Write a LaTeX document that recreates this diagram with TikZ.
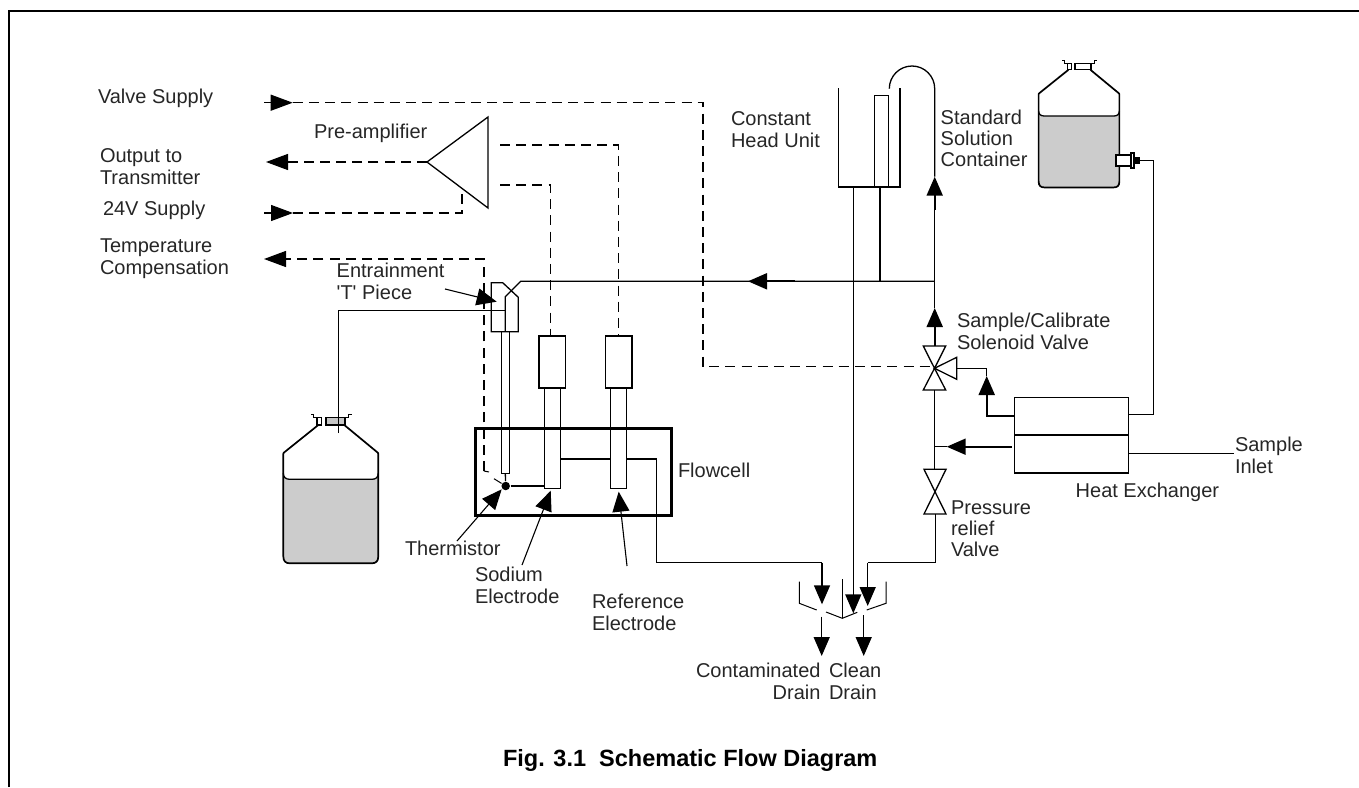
\documentclass[tikz,border=0pt]{standalone}
\usepackage{fontspec}
\setmainfont{Liberation Sans}
\usetikzlibrary{calc,positioning,arrows.meta}

\newcommand{\bottle}[4]{%
  \begin{scope}[shift={(#1,#2)},scale=#3]
    \fill[gray!40] (-47.5,56) .. controls (-47.5,60) and (-45,62) .. (-41,62) -- (41,62) .. controls (45,62) and (47.5,60) .. (47.5,56) -- (47.5,139) .. controls (47.5,144) and (45,146) .. (41,146) -- (-41,146) .. controls (-45,146) and (-47.5,144) .. (-47.5,139) -- cycle;
    \draw (-47.5,56) .. controls (-47.5,60) and (-45,62) .. (-41,62) -- (41,62) .. controls (45,62) and (47.5,60) .. (47.5,56);
    \draw[line width=1.7pt] (-12.5,7.7) -- (-47,35.4) -- (-47.5,36.5) -- (-47.5,139) .. controls (-47.5,144) and (-45,146) .. (-41,146) -- (41,146) .. controls (45,146) and (47.5,144) .. (47.5,139) -- (47.5,36.5) -- (47,35.4) -- (13.5,7.7);
    \draw[fill=white] (-13.8,0) rectangle (-9.1,7.7);
    \draw[fill=#4] (-4.8,0) rectangle (14.2,7.7);
    \draw (-13.8,0) -- (-17,0) -- (-17,-3) -- (-20,-3);
    \draw (14.2,0) -- (18,0) -- (18,-3) -- (21,-3);
  \end{scope}}

\begin{document}
\begin{tikzpicture}[x=1pt, y=-1pt, line width=1.3pt, every node/.style={font=\fontsize{20}{21.3}\selectfont\color{black!85}},
    lbl/.style={inner sep=0pt, outer sep=0pt, anchor=base west, align=left},
    box/.style={draw, inner sep=0pt, outer sep=0pt, anchor=north west},
    sig/.style={dash pattern=on 10pt off 6.2pt},
    flow/.style={-{Triangle[length=19pt,width=16pt]}, line width=2pt},
    wire/.style={-{Triangle[length=22pt,width=16pt]}},
    point/.style={-{Triangle[length=20pt,width=17pt]}, line width=1.1pt}]
    \useasboundingbox (0,0) rectangle (1359,787);

    \coordinate (framea) at (9,787);
    \coordinate (frameb) at (9,11);
    \coordinate (framec) at (1359,11);
    \draw[line width=1.5pt] (framea) -- (frameb) -- (framec);

    \node[lbl] (valvesupply) at (98,103) {Valve Supply};
    \node[lbl] (output) at (100,184) {Output to\\Transmitter};
    \node[lbl] (supply) at (103,215.7) {24V Supply};
    \node[lbl] (tempcomp) at (100,274) {Temperature\\Compensation};
    \node[lbl] (preamp) at (314,138) {Pre-amplifier};
    \node[lbl] (entrain) at (336.7,299) {Entrainment\\\textquotesingle T\textquotesingle\ Piece};
    \node[lbl] (headunit) at (731,147) {Constant\\Head Unit};
    \node[lbl] (standard) at (940.7,166.7) {Standard\\Solution\\Container};
    \node[lbl] (solenoid) at (957,349) {Sample/Calibrate\\Solenoid Valve};
    \node[lbl] (heatex) at (1075.7,497) {Heat Exchanger};
    \node[lbl] (inlet) at (1235,473) {Sample\\Inlet};
    \node[lbl] (relief) at (951,556.7) {Pressure\\relief\\Valve};
    \node[lbl] (flowcelltxt) at (678,477) {Flowcell};
    \node[lbl] (thermtxt) at (405,555) {Thermistor};
    \node[lbl] (sodiumtxt) at (475,603) {Sodium\\Electrode};
    \node[lbl] (reftxt) at (592,630) {Reference\\Electrode};
    \node[lbl, align=right] (contam) at (696,699) {Contaminated\\Drain};
    \node[lbl] (clean) at (829,699) {Clean\\Drain};
    \node[lbl, font=\fontsize{23.5}{24}\selectfont\bfseries] (title) at (503,766) {Fig. 3.1\ \ Schematic Flow Diagram};

    % amplifier and its signal wires
    \coordinate (ampa) at (427,162);
    \coordinate (ampb) at (488,117);
    \coordinate (ampc) at (488,208);
    \draw (ampa) -- (ampb) -- (ampc) -- cycle;
    \coordinate (vsa) at (264,102.7);
    \coordinate (vsb) at (292.7,102.7);
    \coordinate (vsc) at (703,102.7);
    \coordinate (vsd) at (703,366.7);
    \coordinate (vse) at (934.5,366.7);
    \draw[wire] (vsa) -- (vsb);
    \draw[sig] (vsb) -- (vsc) -- (vsd) -- (vse);
    \coordinate (outa) at (297,162);
    \coordinate (outb) at (266,162);
    \draw[sig] (ampa) -- (outa);
    \draw[wire] (outa) -- (outb);
    \coordinate (ssa) at (264,213);
    \coordinate (ssb) at (293,213);
    \coordinate (ssc) at (462,213);
    \coordinate (ssd) at (462,188);
    \draw[wire] (ssa) -- (ssb);
    \draw[sig] (ssb) -- (ssc) -- (ssd);
    \coordinate (tca) at (484,471);
    \coordinate (tcb) at (484,259);
    \coordinate (tcc) at (290,259);
    \coordinate (tcd) at (264,259);
    \coordinate (tce) at (489,472);
    \draw[sig] (tca) -- (tcb) -- (tcc);
    \draw[wire] (tcc) -- (tcd);
    \draw[line width=1pt] (tca) -- (tce);

    \node[box, minimum width=26.7pt, minimum height=52pt] (sodiumhead) at (539,336) {};
    \node[box, minimum width=16pt, minimum height=100.3pt] (sodiumbody) at (544.3,388) {};
    \node[box, minimum width=26.3pt, minimum height=52pt] (refhead) at (605.7,336) {};
    \node[box, minimum width=16pt, minimum height=100.3pt] (refbody) at (610.7,388) {};
    \coordinate (siga) at (500,185);
    \coordinate (sigb) at (550.7,185);
    \coordinate (sigc) at (500,145);
    \coordinate (sigd) at (618.7,145);
    \draw[sig] (siga) -- (sigb) -- (sigb |- sodiumhead.north);
    \draw[sig] (sigc) -- (sigd) -- (sigd |- refhead.north);

    % entrainment piece and probe
    \coordinate (tpa) at (491.3,282.7);
    \coordinate (tpb) at (502.7,282.7);
    \coordinate (tpc) at (518.3,297.3);
    \coordinate (tpd) at (518.3,331.7);
    \coordinate (tpe) at (491.3,331.7);
    \coordinate (tpf) at (505.3,331.7);
    \coordinate (tpg) at (505.3,296.7);
    \coordinate (tph) at (520.7,281.3);
    \coordinate (tee) at (934.7,281.3);
    \coordinate (line) at (505.3,310.7);
    \draw (tpa) -- (tpb) -- (tpc) -- (tpd) -- (tpe) -- cycle;
    \draw (tpf) -- (tpg) -- (tph) -- (tee);
    \node[box, minimum width=8pt, minimum height=141.6pt] (probe) at (501.3,331.7) {};
    \node[circle, fill=black, inner sep=0pt, minimum size=8.5pt] (therm) at (505.7,486) {};
    \coordinate (tick) at (494,478.7);
    \draw (probe.south) -- (therm);
    \draw[line width=1pt] (tick) -- (therm);
    \draw (therm) -- (sodiumbody.west |- therm);

    \coordinate (linka) at (610.7,459);
    \coordinate (linkb) at (626.7,459);
    \coordinate (linkc) at (656.3,459);
    \coordinate (linkd) at (656.3,562.7);
    \coordinate (linke) at (822,562.7);
    \coordinate (linkf) at (822,604.3);
    \draw (sodiumbody.east |- linka) -- (linka);
    \draw (linkb) -- (linkc) -- (linkd) -- (linke);
    \draw[flow, line width=1.5pt] (linke) -- (linkf);
    \node[box, line width=3pt, minimum width=196.7pt, minimum height=86.6pt] (flowcell) at (475,428.7) {};

    % constant head unit
    \coordinate (chua) at (838.7,88);
    \coordinate (chub) at (838.7,187);
    \coordinate (chuc) at (900,187);
    \coordinate (chud) at (900,88);
    \draw (chua) -- (chub) -- (chuc) -- (chud);
    \node[box, minimum width=13.6pt, minimum height=91.3pt] (overflow) at (874.7,95.7) {};
    \coordinate (headpipe) at (880,187);
    \coordinate (headjoin) at (880,281.3);
    \draw (headpipe) -- (headjoin);
    \coordinate (drainpipe) at (853.3,187);
    \coordinate (draintip) at (853.3,613.3);
    \draw[flow, line width=1.5pt] (drainpipe) -- (draintip);

    % valves
    \coordinate (valve) at (934.5,368.3);
    \coordinate (vta) at (923.3,346);
    \coordinate (vtb) at (945.7,346);
    \coordinate (vba) at (923.3,390);
    \coordinate (vbb) at (945.7,390);
    \coordinate (vra) at (956.7,357.3);
    \coordinate (vrb) at (956.7,379.3);
    \coordinate (vrc) at (956.7,368.3);
    \draw (valve) -- (vta) -- (vtb) -- cycle;
    \draw (valve) -- (vba) -- (vbb) -- cycle;
    \draw (valve) -- (vra) -- (vrb) -- cycle;
    \coordinate (rva) at (935,491.7);
    \coordinate (rvb) at (924,469.3);
    \coordinate (rvc) at (946,469.3);
    \coordinate (rvd) at (924,514);
    \coordinate (rve) at (946,514);
    \draw (rva) -- (rvb) -- (rvc) -- cycle;
    \draw (rva) -- (rvd) -- (rve) -- cycle;

    % main riser
    \coordinate (risera) at (934.7,346);
    \coordinate (riserb) at (934.7,308);
    \coordinate (riserc) at (934.7,210);
    \coordinate (riserd) at (934.7,176.7);
    \coordinate (risere) at (934.7,88.7);
    \draw[flow] (risera) -- (riserb);
    \draw (riserb) -- (riserc);
    \draw[flow] (riserc) -- (riserd);
    \draw (riserd) -- (risere) arc[start angle=0, end angle=-180, radius=22.7];
    \coordinate (backa) at (795,281.3);
    \coordinate (backb) at (748,281.3);
    \draw[flow] (backa) -- (backb);

    \coordinate (lowa) at (934.7,390);
    \coordinate (lowb) at (934.7,469.3);
    \draw (lowa) -- (lowb);
    \coordinate (lowc) at (935.7,514);
    \coordinate (lowd) at (935.7,562.7);
    \coordinate (lowe) at (867.7,562.7);
    \coordinate (lowf) at (867.7,606);
    \draw (lowc) -- (lowd) -- (lowe);
    \draw[flow, line width=1.5pt] (lowe) -- (lowf);

    % heat exchanger
    \node[box, minimum width=114pt, minimum height=37.3pt] (hxtop) at (1014.3,397.7) {};
    \node[box, minimum width=114pt, minimum height=38pt] (hxbot) at (1014.3,435) {};
    \coordinate (hxa) at (986.7,368.3);
    \coordinate (hxb) at (986.7,416);
    \coordinate (hxc) at (986.7,376);
    \draw (vrc) -- (hxa) -- (hxc);
    \draw[flow] (hxtop.west |- hxb) -- (hxb) -- (hxc);
    \coordinate (hxd) at (1012,446.7);
    \coordinate (hxe) at (946.7,446.7);
    \coordinate (hxf) at (934.7,446.7);
    \draw[flow] (hxd) -- (hxe);
    \draw (hxe) -- (hxf);
    \coordinate (hxg) at (1128.3,414.7);
    \coordinate (hxh) at (1153.5,414.7);
    \coordinate (hxi) at (1153.5,160.5);
    \coordinate (hxj) at (1128.3,453.7);
    \coordinate (hxk) at (1234,453.7);
    \draw (hxj) -- (hxk);

    % drain funnel
    \coordinate (fa) at (799.3,581.7);
    \coordinate (fb) at (799.3,603.3);
    \coordinate (fc) at (816.7,610);
    \coordinate (fd) at (826,612);
    \coordinate (fe) at (842.3,618.3);
    \coordinate (ff) at (842.3,579);
    \coordinate (fg) at (857.3,612.3);
    \coordinate (fh) at (866.7,610);
    \coordinate (fi) at (886,603.3);
    \coordinate (fj) at (886,581.7);
    \draw[line width=1pt] (fa) -- (fb) -- (fc);
    \draw[line width=1pt] (fd) -- (fe) -- (fg);
    \draw[line width=1pt] (ff) -- (fe);
    \draw[line width=1pt] (fh) -- (fi) -- (fj);
    \coordinate (da) at (821.7,616.7);
    \coordinate (db) at (821.7,656);
    \coordinate (dc) at (863.7,615);
    \coordinate (dd) at (863.7,656);
    \draw[flow, line width=1.5pt] (da) -- (db);
    \draw[flow, line width=1.5pt] (dc) -- (dd);

    % bottles
    \bottle{330.8}{417.3}{1}{gray!45}
    \bottle{1079}{63.3}{0.85}{white}
    \coordinate (bota) at (338.3,433);
    \coordinate (botb) at (338.3,310.7);
    \draw (bota) -- (botb) -- (line);
    \node[box, fill=white, line width=1.5pt, minimum width=15pt, minimum height=11pt] (port) at (1116,155) {};
    \node[box, fill=white, line width=1.5pt, minimum width=3pt, minimum height=15pt] (flange) at (1131,153) {};
    \node[box, fill=black, minimum width=5pt, minimum height=6pt] (nut) at (1134,157.5) {};
    \draw (nut.east) -- (hxi) -- (hxh) -- (hxg);

    % pointers
    \coordinate (enta) at (445,289);
    \coordinate (entb) at (496.7,301.7);
    \coordinate (thea) at (457,541);
    \coordinate (theb) at (501.7,489.3);
    \coordinate (soda) at (522,565);
    \coordinate (sodb) at (550.7,490.7);
    \coordinate (refa) at (627,566);
    \coordinate (refb) at (618.7,491.7);
    \draw[point] (enta) -- (entb);
    \draw[point] (thea) -- (theb);
    \draw[point] (soda) -- (sodb);
    \draw[point] (refa) -- (refb);
\end{tikzpicture}
\end{document}
